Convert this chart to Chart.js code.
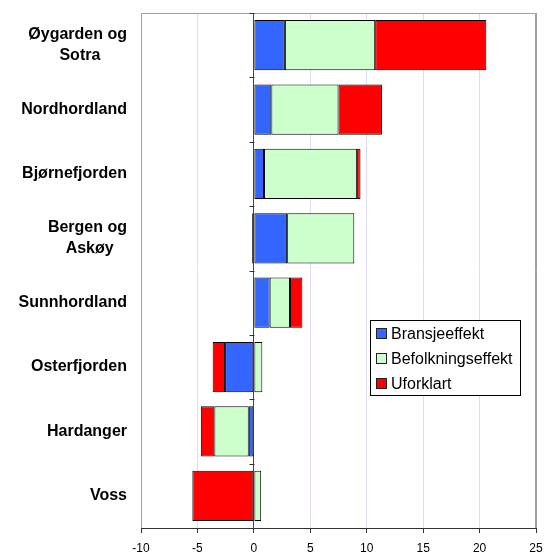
<!DOCTYPE html>
<html>
<head>
<meta charset="utf-8">
<script src="https://cdn.jsdelivr.net/npm/chart.js@4/dist/chart.umd.min.js"></script>
<style>
  html, body { margin: 0; padding: 0; background: #fff; }
  #wrap { width: 548px; height: 553px; }
</style>
</head>
<body>
<div id="wrap"><canvas id="c" width="548" height="553"></canvas></div>
<script>
const categories = [
  ['Øygarden og', 'Sotra'],
  'Nordhordland',
  'Bjørnefjorden',
  ['Bergen og', 'Askøy'],
  'Sunnhordland',
  'Osterfjorden',
  'Hardanger',
  'Voss'
];
const seriesNames = ['Bransjeeffekt', 'Befolkningseffekt', 'Uforklart'];
const bransjeeffekt     = [2.75, 1.55, 0.9, 2.95, 1.4, -2.55, -0.45, 0];
const befolkningseffekt = [8.0, 5.95, 8.25, 5.95, 1.8, 0.75, -3.05, 0.65];
const uforklart         = [9.85, 3.85, 0.3, -0.15, 1.1, -1.1, -1.2, -5.45];
const xTicks = [-10, -5, 0, 5, 10, 15, 20, 25];

const seriesColors = ['#3366FF', '#CCFFCC', '#FF0000'];
const FONT = '"Liberation Sans", Arial, sans-serif';

const mctx = document.createElement('canvas').getContext('2d');
mctx.font = 'bold 16px ' + FONT;
const spaceW = mctx.measureText(' ').width;
function centerLines(lbl) {
  if (!Array.isArray(lbl)) return lbl;
  const ws = lbl.map(l => mctx.measureText(l).width);
  const wMax = Math.max(...ws);
  return lbl.map((l, i) => {
    const n = Math.round(((wMax - ws[i]) / 2) / spaceW);
    return l + ' '.repeat(n);
  });
}

const framePlugin = {
  id: 'frame',
  beforeDatasetsDraw(chart) {
    const { ctx, chartArea: a, scales } = chart;
    ctx.save();
    ctx.strokeStyle = '#a0a0a0';
    ctx.lineWidth = 1;
    ctx.beginPath();
    ctx.moveTo(a.left + 0.5, a.bottom);
    ctx.lineTo(a.left + 0.5, a.top + 0.5);
    ctx.lineTo(a.right - 0.5, a.top + 0.5);
    ctx.lineTo(a.right - 0.5, a.bottom);
    ctx.stroke();
    const x0 = Math.round(scales.x.getPixelForValue(0)) + 0.5;
    ctx.strokeStyle = '#333';
    ctx.beginPath();
    for (let i = 0; i <= categories.length; i++) {
      const y = Math.round(scales.y.getPixelForValue(i - 0.5)) + 0.5;
      ctx.moveTo(x0 - 5, y);
      ctx.lineTo(x0, y);
    }
    ctx.stroke();
    ctx.restore();
  }
};

const legendPlugin = {
  id: 'boxLegend',
  afterDraw(chart) {
    const { ctx } = chart;
    const bx = 370.5, by = 320.5, bw = 150, bh = 75;
    ctx.save();
    ctx.fillStyle = '#fff';
    ctx.fillRect(bx, by, bw, bh);
    ctx.strokeStyle = '#000';
    ctx.lineWidth = 1;
    ctx.strokeRect(bx, by, bw, bh);
    ctx.font = '16px ' + FONT;
    ctx.textBaseline = 'middle';
    ctx.textAlign = 'left';
    chart.data.datasets.forEach((ds, i) => {
      const cy = 334 + i * 25;
      ctx.fillStyle = ds.backgroundColor;
      ctx.fillRect(377, cy - 5, 9, 9);
      ctx.strokeStyle = '#222';
      ctx.strokeRect(376.5, cy - 5.5, 10, 10);
      ctx.fillStyle = '#000';
      ctx.fillText(ds.label, 391, cy + 1);
    });
    ctx.restore();
  }
};

new Chart(document.getElementById('c'), {
  type: 'bar',
  data: {
    labels: categories,
    datasets: [
      { label: seriesNames[0], data: bransjeeffekt, backgroundColor: seriesColors[0] },
      { label: seriesNames[1], data: befolkningseffekt, backgroundColor: seriesColors[1] },
      { label: seriesNames[2], data: uforklart, backgroundColor: seriesColors[2] }
    ].map(d => Object.assign(d, {
      borderColor: '#000', borderWidth: 1, borderSkipped: false,
      barPercentage: 0.78, categoryPercentage: 1
    }))
  },
  options: {
    indexAxis: 'y',
    responsive: false,
    animation: false,
    devicePixelRatio: 1,
    layout: { padding: { top: 13, right: 12, left: 0, bottom: 0 } },
    plugins: {
      legend: { display: false },
      tooltip: { enabled: false }
    },
    scales: {
      x: {
        stacked: true,
        min: xTicks[0],
        max: xTicks[xTicks.length - 1],
        afterBuildTicks: s => { s.ticks = xTicks.map(v => ({ value: v })); },
        afterFit: s => { s.height = 25; s.paddingLeft = 0; s.paddingRight = 0; },
        grid: {
          color: c => (c.tick && c.tick.value === 0) ? '#444' :
                      (c.tick && (c.tick.value === -10 || c.tick.value === 25)) ? '#a0a0a0' : '#dcdcfa',
          lineWidth: 1,
          drawTicks: true,
          tickLength: 5,
          tickColor: '#333'
        },
        border: { display: true, color: '#333', width: 1 },
        ticks: {
          color: '#000',
          font: { family: FONT, size: 12 },
          padding: 8,
          maxRotation: 0
        }
      },
      y: {
        stacked: true,
        afterFit: s => { s.width = 141; s.paddingTop = 0; s.paddingBottom = 0; },
        grid: { display: false, drawTicks: false },
        border: { display: false },
        ticks: {
          color: '#000',
          font: { family: FONT, size: 16, weight: 'bold', lineHeight: 1.3 },
          padding: 14,
          autoSkip: false,
          callback: function (v) { return centerLines(this.getLabelForValue(v)); }
        }
      }
    }
  },
  plugins: [framePlugin, legendPlugin]
});
</script>
</body>
</html>
